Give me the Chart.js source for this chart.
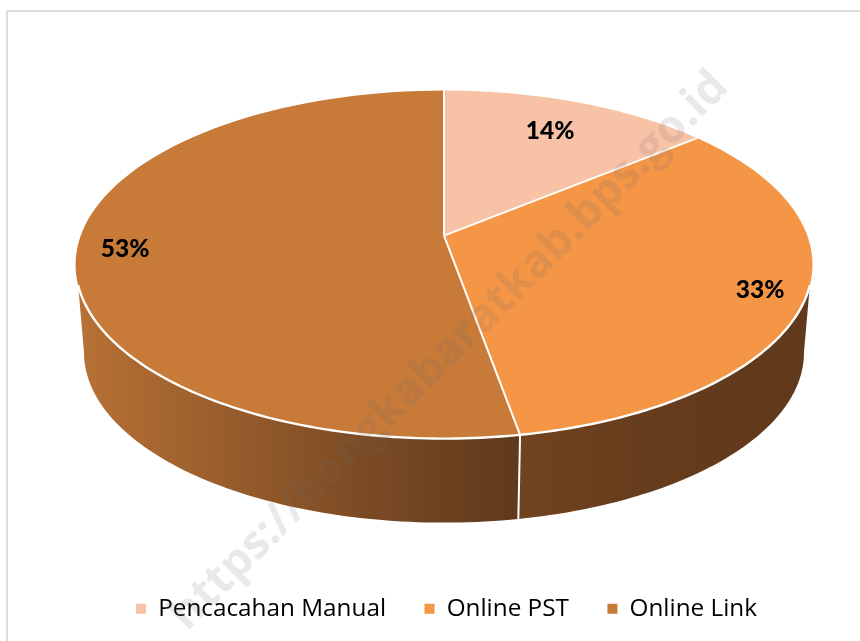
<!DOCTYPE html>
<html lang="en">
  <head>
    <meta charset="UTF-8" />
    <title>Pencacahan</title>
    <script src="https://cdn.jsdelivr.net/npm/chart.js"></script>
    <style>
      body {
        margin: 0;
        background: #fff;
        overflow: hidden;
      }
      canvas {
        display: block;
      }
      .frame {
        position: absolute;
        left: 6px;
        top: 10px;
        right: 0;
        bottom: 0;
        border-left: 2px solid #dedede;
        border-top: 2px solid #dedede;
        pointer-events: none;
      }
    </style>
  </head>
  <body>
    <canvas id="pieChart" width="860" height="641"></canvas>
    <div class="frame"></div>

    <script>
      const categories = ["Pencacahan Manual", "Online PST", "Online Link"]
      const shares = [14, 33.2, 52.8]
      const topColors = ["#f7c2a5", "#f49646", "#c87a38"]
      const wallStops = [
        [[0, "#e8b090"], [1, "#d8a080"]],
        [[0, "#72431f"], [0.45, "#653c1c"], [1, "#60381b"]],
        [[0, "#b87236"], [0.2, "#a5652f"], [0.66, "#7a4a24"], [1, "#5f391c"]],
      ]
      const labelReach = [0.765, 0.88, 0.87]
      const watermark = "https://bangkabaratkab.bps.go.id"

      // disc tilt, everything relative to the radius Chart.js gives the arcs
      const tilt = { a: 1.8165, b: 0.87, c: 0.145, k: 1 / 6, drop: 0.44, shrink: 0.977, lift: 0.2175, left: 0.0125 }
      const FRONT_TOP = 0.28
      const FRONT_BOTTOM = 1 / 6

      function project(arc, theta, reach, lower) {
        const R = arc.outerRadius
        const s = lower ? tilt.shrink : 1
        const u = Math.cos(theta) * reach
        const v = Math.sin(theta) * reach
        const d = 1 - v * tilt.k
        const midY = arc.y - R * tilt.lift + R * tilt.c + (lower ? R * tilt.drop : 0)
        return {
          x: arc.x - R * tilt.left + (R * tilt.a * s * u) / d,
          y: midY + (R * tilt.b * s * v - R * tilt.c * s) / d,
        }
      }

      // angles of the part of a slice inside the front facing range
      function frontRange(arc, limit) {
        const halfBack = Math.asin(limit)
        const from = Math.max(arc.startAngle, halfBack)
        const to = Math.min(arc.endAngle, Math.PI - halfBack)
        return to > from ? [from, to] : null
      }

      function tracePoints(ctx, arc, from, to, lower) {
        const steps = 80
        for (let i = 0; i <= steps; i++) {
          const p = project(arc, from + ((to - from) * i) / steps, 1, lower)
          ctx.lineTo(p.x, p.y)
        }
      }

      const pie3d = {
        id: "pie3d",
        beforeDatasetsDraw(chart) {
          const ctx = chart.ctx
          const arcs = chart.getDatasetMeta(0).data

          // side walls first
          arcs.forEach((arc, i) => {
            const up = frontRange(arc, FRONT_TOP)
            const low = frontRange(arc, FRONT_BOTTOM)
            if (!up || !low) return
            const x0 = project(arc, low[1], 1, false).x
            const x1 = project(arc, low[0], 1, false).x
            const grad = ctx.createLinearGradient(x0, 0, x1, 0)
            wallStops[i].forEach((s) => grad.addColorStop(s[0], s[1]))
            ctx.beginPath()
            tracePoints(ctx, arc, up[0], up[1], false)
            tracePoints(ctx, arc, low[1], low[0], true)
            ctx.closePath()
            ctx.fillStyle = grad
            ctx.fill()
          })

          // divider on the wall
          arcs.forEach((arc) => {
            if (!frontRange(arc, FRONT_TOP) || arc.startAngle < FRONT_TOP) return
            const a = project(arc, arc.startAngle, 1, false)
            const b = project(arc, arc.startAngle, 1, true)
            ctx.beginPath()
            ctx.moveTo(a.x, a.y)
            ctx.lineTo(b.x, b.y)
            ctx.strokeStyle = "#fff"
            ctx.lineWidth = 2
            ctx.stroke()
          })

          // top of the disc
          arcs.forEach((arc, i) => {
            const apex = project(arc, 0, 0, false)
            ctx.beginPath()
            ctx.moveTo(apex.x, apex.y)
            tracePoints(ctx, arc, arc.startAngle, arc.endAngle, false)
            ctx.closePath()
            ctx.fillStyle = topColors[i]
            ctx.fill()
          })

          arcs.forEach((arc) => {
            const apex = project(arc, 0, 0, false)
            const p = project(arc, arc.startAngle, 1, false)
            ctx.beginPath()
            ctx.moveTo(apex.x, apex.y)
            ctx.lineTo(p.x, p.y)
            ctx.strokeStyle = "#fff"
            ctx.lineWidth = 2
            ctx.stroke()
          })

          // white rim along the front
          arcs.forEach((arc) => {
            const up = frontRange(arc, FRONT_TOP)
            if (!up) return
            ctx.beginPath()
            const first = project(arc, up[0], 1, false)
            ctx.moveTo(first.x, first.y)
            tracePoints(ctx, arc, up[0], up[1], false)
            ctx.strokeStyle = "#fff"
            ctx.lineWidth = 2.4
            ctx.stroke()
          })

          // value labels
          const total = shares.reduce((sum, v) => sum + v, 0)
          ctx.fillStyle = "#000"
          ctx.font = "900 24.5px Lato"
          ctx.textAlign = "center"
          ctx.textBaseline = "middle"
          arcs.forEach((arc, i) => {
            const mid = (arc.startAngle + arc.endAngle) / 2
            const p = project(arc, mid, labelReach[i], false)
            ctx.fillText(Math.round((shares[i] / total) * 100) + "%", p.x, p.y)
          })
          return false
        },
        afterDraw(chart) {
          const ctx = chart.ctx
          ctx.save()
          ctx.translate(187, 632)
          ctx.rotate(-Math.PI / 4)
          ctx.font = "bold 45.8px 'Open Sans'"
          ctx.textAlign = "left"
          ctx.textBaseline = "alphabetic"
          ctx.fillStyle = "rgba(110, 110, 110, 0.15)"
          ctx.fillText(watermark, 0, 0)
          ctx.restore()
        },
      }

      new Chart(document.getElementById("pieChart"), {
        type: "pie",
        data: {
          labels: categories,
          datasets: [
            {
              data: shares,
              backgroundColor: topColors,
              borderWidth: 0,
              radius: 200,
            },
          ],
        },
        options: {
          responsive: false,
          animation: false,
          layout: { padding: { left: 33, bottom: 10 } },
          plugins: {
            tooltip: { enabled: false },
            legend: {
              position: "bottom",
              labels: {
                boxWidth: 10,
                boxHeight: 10,
                padding: 38.5,
                color: "#000",
                font: { family: "'Open Sans'", size: 24.3 },
              },
            },
          },
        },
        plugins: [pie3d],
      })
    </script>
  </body>
</html>
